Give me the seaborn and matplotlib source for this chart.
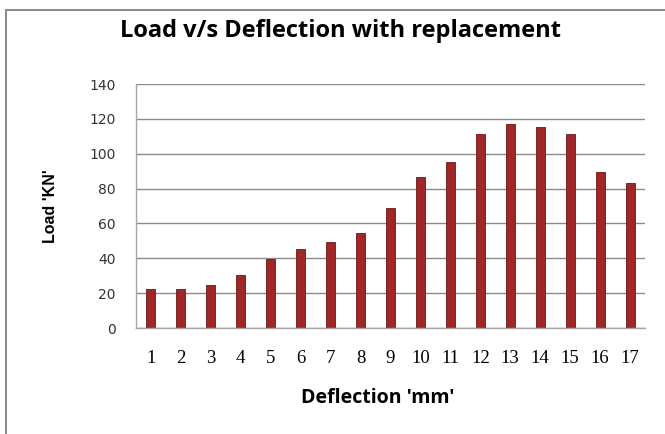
import matplotlib
matplotlib.use("Agg")
import matplotlib.pyplot as plt
import seaborn as sns
import pandas as pd

# Data
deflection = [str(i) for i in range(1, 18)]
load_kn = [22.4, 22.4, 24.9, 30.3, 39.7, 45.4, 49.5, 54.7, 68.8,
           86.7, 95.5, 111.4, 117.1, 115.2, 111.4, 89.5, 83.2]
y_ticks = [0, 20, 40, 60, 80, 100, 120, 140]

df = pd.DataFrame({"deflection": deflection, "load": load_kn})

sns.set_style("white")
plt.rcParams["text.color"] = "black"
plt.rcParams["axes.labelcolor"] = "black"

fig = plt.figure(figsize=(6.65, 4.34), dpi=100)
# plot area from x=136..645 px, y=84..328 px
ax = fig.add_axes([136 / 665, 1 - 328 / 434, 509 / 665, 244 / 434])

sns.barplot(x="deflection", y="load", data=df, color="#a02727",
            width=0.3, saturation=1, edgecolor="#6b1515", linewidth=0.6, ax=ax)

ax.set_ylim(0, 140)
ax.set_xlim(-0.5, len(deflection) - 0.5)
ax.set_yticks(y_ticks)
ax.yaxis.grid(True, color="#8c8c8c", linewidth=1.0)
ax.set_axisbelow(True)

for s in ["top", "right"]:
    ax.spines[s].set_visible(False)
for s in ["left", "bottom"]:
    ax.spines[s].set_color("#a6a6a6")
    ax.spines[s].set_linewidth(1.0)

# Tick marks between categories on x axis
ax.set_xticks(range(len(deflection)))
ax.set_xticklabels(deflection, family="Liberation Serif", fontsize=13.5)
ax.set_xticks([i - 0.5 for i in range(len(deflection) + 1)], minor=True)
ax.tick_params(axis="x", which="major", length=0, pad=16, labelcolor="black")
ax.tick_params(axis="x", which="minor", length=4.3, color="#a6a6a6", direction="out")
ax.tick_params(axis="y", length=5.8, color="#a6a6a6", direction="out",
               labelsize=10, labelcolor="#333333", pad=9)
for lbl in ax.get_yticklabels():
    lbl.set_family("DejaVu Sans")

ax.set_xlabel("Deflection 'mm'", fontsize=14, fontweight="bold", family="Open Sans")
ax.xaxis.set_label_coords(0.475, -0.245)
ax.set_ylabel("Load 'KN'", fontsize=11.5, fontweight="bold", family="Liberation Sans")
ax.yaxis.set_label_coords(-0.153, 0.5)

fig.text(340 / 665, 1 - 31 / 434, "Load v/s Deflection with replacement",
         ha="center", va="center", fontsize=17, fontweight="bold", family="Open Sans")

# Outer chart frame (top and left visible)
fig.add_artist(plt.Line2D([6 / 665, 1.0], [1 - 10 / 434, 1 - 10 / 434],
                          color="#8c8c8c", linewidth=1.5))
fig.add_artist(plt.Line2D([6 / 665, 6 / 665], [0.0, 1 - 10 / 434],
                          color="#8c8c8c", linewidth=1.5))

plt.savefig("out.png", dpi=100)
